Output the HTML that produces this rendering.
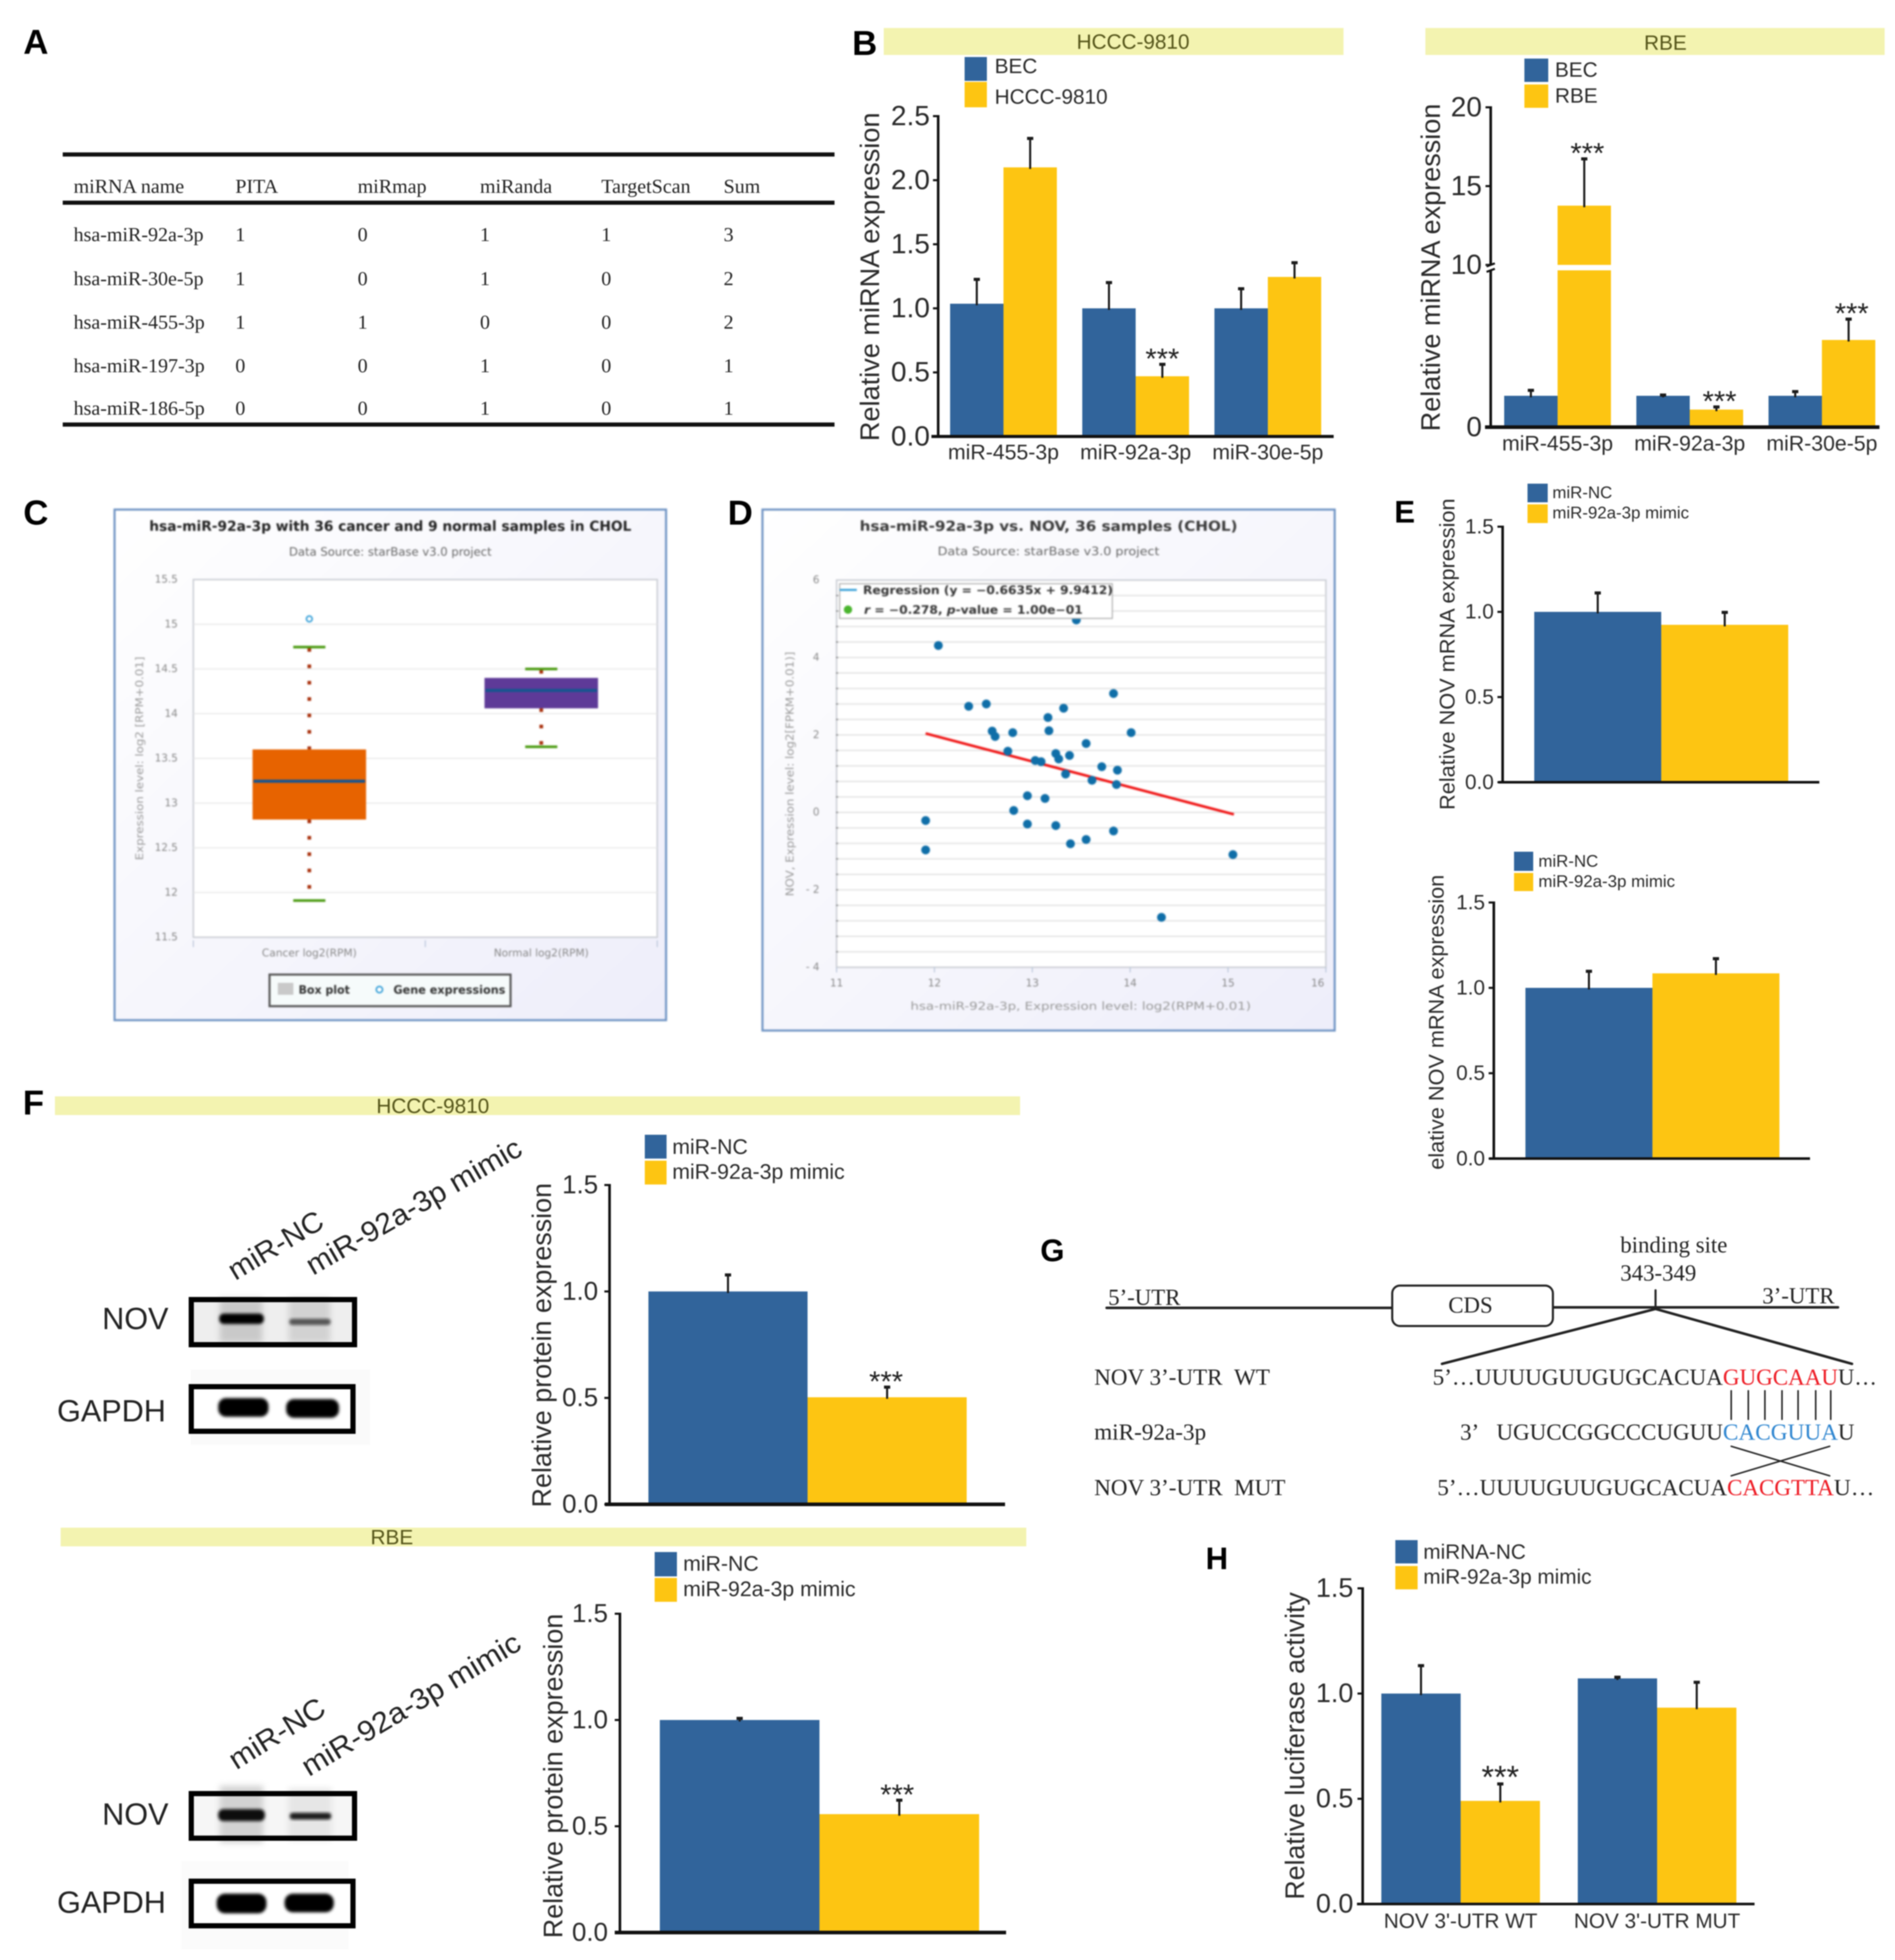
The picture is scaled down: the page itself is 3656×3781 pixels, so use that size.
<!DOCTYPE html>
<html lang="en">
<head>
<meta charset="utf-8">
<title>miR-92a-3p and NOV figure</title>
<style>
html,body{margin:0;padding:0;background:#fff;width:3656px;height:3781px;overflow:hidden}
svg{display:block;filter:blur(1px)}
text{font-family:"Liberation Sans",sans-serif;fill:#222}
.serif text,text.serif{font-family:"Liberation Serif",serif}
.dj text{font-family:"DejaVu Sans",sans-serif}
.soft{filter:blur(1.3px)}
.plabel{font-weight:700;font-size:67px;fill:#000}
.banner-text{font-size:40px;fill:#55551a}
</style>
</head>
<body>
<svg id="figure" xmlns="http://www.w3.org/2000/svg" width="3656" height="3781" viewBox="0 0 3656 3781">
<defs>
<linearGradient id="panelBg" x1="0" y1="0" x2="1" y2="1"><stop offset="0" stop-color="#ffffff"/><stop offset="1" stop-color="#eeeefa"/></linearGradient>
<filter id="b3" x="-30%" y="-30%" width="160%" height="160%"><feGaussianBlur stdDeviation="3"/></filter>
<filter id="b7" x="-30%" y="-30%" width="160%" height="160%"><feGaussianBlur stdDeviation="6"/></filter>
</defs>
<rect width="3656" height="3781" fill="#fff"/>

<!-- panel letters -->
<text class="plabel" x="45" y="104">A</text>
<text class="plabel" x="1644" y="106">B</text>
<text class="plabel" x="45" y="1012">C</text>
<text class="plabel" x="1404" y="1012">D</text>
<text class="plabel" x="2690" y="1008" style="font-size:60px">E</text>
<text class="plabel" x="44" y="2150">F</text>
<text class="plabel" x="2007" y="2433" style="font-size:60px">G</text>
<text class="plabel" x="2326" y="3027" style="font-size:60px">H</text>

<!-- Table A -->
<g class="serif" font-size="38.6">
<rect x="121" y="294" width="1489" height="8" fill="#111"/>
<rect x="121" y="387" width="1489" height="8" fill="#111"/>
<rect x="121" y="815" width="1489" height="8" fill="#111"/>
<text x="142" y="372">miRNA name</text>
<text x="454" y="372">PITA</text>
<text x="690" y="372">miRmap</text>
<text x="926" y="372">miRanda</text>
<text x="1160" y="372">TargetScan</text>
<text x="1396" y="372">Sum</text>
<text x="142" y="465">hsa-miR-92a-3p</text>
<text x="454" y="465">1</text>
<text x="690" y="465">0</text>
<text x="926" y="465">1</text>
<text x="1160" y="465">1</text>
<text x="1396" y="465">3</text>
<text x="142" y="550">hsa-miR-30e-5p</text>
<text x="454" y="550">1</text>
<text x="690" y="550">0</text>
<text x="926" y="550">1</text>
<text x="1160" y="550">0</text>
<text x="1396" y="550">2</text>
<text x="142" y="634">hsa-miR-455-3p</text>
<text x="454" y="634">1</text>
<text x="690" y="634">1</text>
<text x="926" y="634">0</text>
<text x="1160" y="634">0</text>
<text x="1396" y="634">2</text>
<text x="142" y="718">hsa-miR-197-3p</text>
<text x="454" y="718">0</text>
<text x="690" y="718">0</text>
<text x="926" y="718">1</text>
<text x="1160" y="718">0</text>
<text x="1396" y="718">1</text>
<text x="142" y="800">hsa-miR-186-5p</text>
<text x="454" y="800">0</text>
<text x="690" y="800">0</text>
<text x="926" y="800">1</text>
<text x="1160" y="800">0</text>
<text x="1396" y="800">1</text>
</g>

<!-- Cell-line banners -->
<rect x="1705" y="54" width="887" height="52" fill="#f3f3b0"/>
<text class="banner-text" x="2186" y="94" text-anchor="middle">HCCC-9810</text>
<rect x="2750" y="54" width="886" height="52" fill="#f3f3b0"/>
<text class="banner-text" x="3213" y="96" text-anchor="middle">RBE</text>
<rect x="106" y="2115" width="1862" height="36" fill="#f3f3b0"/>
<text class="banner-text" x="835" y="2147" text-anchor="middle">HCCC-9810</text>
<rect x="117" y="2947" width="1863" height="36" fill="#f3f3b0"/>
<text class="banner-text" x="756" y="2979" text-anchor="middle">RBE</text>

<!-- Bar chart mounts -->
<g id="chart-b1"></g>
<g id="chart-b2"></g>
<g id="chart-e1"></g>
<g id="chart-e2"></g>
<g id="chart-f1"></g>
<g id="chart-f2"></g>
<g id="chart-h"></g>

<!-- Panel C: box plot -->
<g class="dj soft">
<rect x="221" y="983" width="1064" height="985" fill="url(#panelBg)" stroke="#6f94c4" stroke-width="4"/>
<text x="753" y="1024" text-anchor="middle" font-size="27" font-weight="700" fill="#3a3a3a" textLength="930" lengthAdjust="spacingAndGlyphs">hsa-miR-92a-3p with 36 cancer and 9 normal samples in CHOL</text>
<text x="753" y="1072" text-anchor="middle" font-size="22" style="fill:#666" textLength="391" lengthAdjust="spacingAndGlyphs">Data Source: starBase v3.0 project</text>
<rect x="373" y="1118" width="895" height="690" fill="#fff" stroke="#cdd0d6" stroke-width="3"/>
<text transform="translate(276,1463) rotate(-90)" text-anchor="middle" font-size="20" style="fill:#999" textLength="393" lengthAdjust="spacingAndGlyphs">Expression level: log2 [RPM+0.01]</text>
<g id="box-marks"></g>
<rect x="520" y="1880" width="465" height="61" fill="#f6fbfb" stroke="#555" stroke-width="4"/>
<rect x="536" y="1896" width="30" height="23" fill="#c9c9c9"/>
<text x="576" y="1917" font-size="22" font-weight="700" style="fill:#333" textLength="99" lengthAdjust="spacingAndGlyphs">Box plot</text>
<circle cx="732" cy="1909" r="6" fill="#fff" stroke="#38a0d8" stroke-width="3"/>
<text x="759" y="1917" font-size="22" font-weight="700" style="fill:#333" textLength="216" lengthAdjust="spacingAndGlyphs">Gene expressions</text>
</g>

<!-- Panel D: scatter -->
<g class="dj soft">
<rect x="1471" y="983" width="1104" height="1005" fill="url(#panelBg)" stroke="#6f94c4" stroke-width="4"/>
<text x="2023" y="1024" text-anchor="middle" font-size="27" font-weight="700" style="fill:#3a3a3a" textLength="729" lengthAdjust="spacingAndGlyphs">hsa-miR-92a-3p vs. NOV, 36 samples (CHOL)</text>
<text x="2023" y="1071" text-anchor="middle" font-size="22" style="fill:#666" textLength="428" lengthAdjust="spacingAndGlyphs">Data Source: starBase v3.0 project</text>
<rect x="1614" y="1119" width="944" height="747" fill="#fff" stroke="#cdd0d6" stroke-width="3"/>
<text transform="translate(1531,1493) rotate(-90)" text-anchor="middle" font-size="21" style="fill:#999" textLength="472" lengthAdjust="spacingAndGlyphs">NOV, Expression level: log2[FPKM+0.01)]</text>
<text x="2085" y="1948" text-anchor="middle" font-size="21" style="fill:#999" textLength="657" lengthAdjust="spacingAndGlyphs">hsa-miR-92a-3p, Expression level: log2(RPM+0.01)</text>
<g id="scatter-marks"></g>
<rect x="1620" y="1126" width="526" height="67" fill="#fff" stroke="#aaa" stroke-width="2"/>
<line x1="1620" y1="1138" x2="1653" y2="1138" stroke="#38a0d8" stroke-width="4"/>
<text x="1665" y="1146" font-size="22" font-weight="700" style="fill:#333" textLength="482" lengthAdjust="spacingAndGlyphs">Regression (y = −0.6635x + 9.9412)</text>
<circle cx="1636" cy="1176" r="8" fill="#4ab52e"/>
<text x="1667" y="1184" font-size="22" font-weight="700" style="fill:#333" textLength="422" lengthAdjust="spacingAndGlyphs"><tspan font-style="italic">r</tspan> = −0.278, <tspan font-style="italic">p</tspan>-value = 1.00e−01</text>
</g>

<!-- Panel F blots -->
<g>
<rect x="368" y="2642" width="346" height="145" fill="#fafafa"/>
<text transform="translate(454,2471) rotate(-31)" font-size="56" textLength="204" lengthAdjust="spacingAndGlyphs">miR-NC</text>
<text transform="translate(604,2461) rotate(-30)" font-size="56" textLength="470" lengthAdjust="spacingAndGlyphs">miR-92a-3p mimic</text>
<text x="325" y="2564" text-anchor="end" font-size="59">NOV</text>
<text x="320" y="2742" text-anchor="end" font-size="59">GAPDH</text>
<rect x="369" y="2507" width="315" height="87" fill="#eeeeee"/>
<rect x="424" y="2505" width="82" height="85" fill="#c9c9c9" filter="url(#b7)"/>
<rect x="557" y="2505" width="80" height="85" fill="#d2d2d2" filter="url(#b7)"/>
<rect x="423" y="2534" width="86" height="20" rx="9" fill="#060606" filter="url(#b3)"/>
<rect x="558" y="2544" width="80" height="12" rx="6" fill="#555" filter="url(#b3)"/>
<rect x="369" y="2507" width="315" height="87" fill="none" stroke="#000" stroke-width="10"/>
<rect x="369" y="2675" width="312" height="86" fill="#fff"/>
<rect x="421" y="2697" width="97" height="36" rx="15" fill="#000" filter="url(#b3)"/>
<rect x="552" y="2699" width="102" height="36" rx="15" fill="#000" filter="url(#b3)"/>
<rect x="369" y="2675" width="312" height="86" fill="none" stroke="#000" stroke-width="10"/>
</g>
<g>
<rect x="350" y="3590" width="322" height="170" fill="#fbfbfb"/>
<text transform="translate(456,3415) rotate(-32)" font-size="56" textLength="208" lengthAdjust="spacingAndGlyphs">miR-NC</text>
<text transform="translate(596,3428) rotate(-31)" font-size="56" textLength="482" lengthAdjust="spacingAndGlyphs">miR-92a-3p mimic</text>
<text x="325" y="3520" text-anchor="end" font-size="59">NOV</text>
<text x="320" y="3690" text-anchor="end" font-size="59">GAPDH</text>
<rect x="369" y="3460" width="315" height="86" fill="#f6f6f6"/>
<rect x="424" y="3445" width="84" height="110" fill="#d2d2d2" filter="url(#b7)"/>
<rect x="556" y="3450" width="84" height="100" fill="#e6e6e6" filter="url(#b7)"/>
<rect x="421" y="3490" width="90" height="23" rx="10" fill="#0c0c0c" filter="url(#b3)"/>
<rect x="559" y="3497" width="80" height="13" rx="6" fill="#1c1c1c" filter="url(#b3)"/>
<rect x="369" y="3460" width="315" height="86" fill="none" stroke="#000" stroke-width="10"/>
<rect x="369" y="3629" width="312" height="86" fill="#fff"/>
<rect x="418" y="3653" width="96" height="38" rx="16" fill="#000" filter="url(#b3)"/>
<rect x="549" y="3653" width="95" height="36" rx="16" fill="#000" filter="url(#b3)"/>
<rect x="369" y="3629" width="312" height="86" fill="none" stroke="#000" stroke-width="10"/>
</g>

<!-- Panel G: binding-site diagram -->
<g class="serif" font-size="44" stroke-linecap="round">
<line x1="2135" y1="2523" x2="2686" y2="2523" stroke="#222" stroke-width="5"/>
<line x1="2996" y1="2522" x2="3546" y2="2522" stroke="#222" stroke-width="5"/>
<rect x="2686" y="2480" width="310" height="78" rx="15" fill="#fff" stroke="#222" stroke-width="4"/>
<text x="2837" y="2532" text-anchor="middle">CDS</text>
<text x="2138" y="2517">5’-UTR</text>
<text x="3400" y="2514">3’-UTR</text>
<text x="3126" y="2416">binding site</text>
<text x="3126" y="2470">343-349</text>
<line x1="3194" y1="2489" x2="3194" y2="2523" stroke="#222" stroke-width="4"/>
<line x1="3194" y1="2525" x2="2782" y2="2631" stroke="#222" stroke-width="5"/>
<line x1="3194" y1="2525" x2="3573" y2="2631" stroke="#222" stroke-width="5"/>
<text x="2111" y="2671" textLength="339" lengthAdjust="spacingAndGlyphs">NOV 3’-UTR&#160;&#160;WT</text>
<text x="2111" y="2777" textLength="216" lengthAdjust="spacingAndGlyphs">miR-92a-3p</text>
<text x="2111" y="2884" textLength="369" lengthAdjust="spacingAndGlyphs">NOV 3’-UTR&#160;&#160;MUT</text>
<text x="2764" y="2671" textLength="560" lengthAdjust="spacingAndGlyphs">5’…UUUUGUUGUGCACUA</text>
<text x="3324" y="2671" textLength="222" lengthAdjust="spacingAndGlyphs" style="fill:#ee1c25">GUGCAAU</text>
<text x="3546" y="2671" textLength="75" lengthAdjust="spacingAndGlyphs">U…</text>
<text x="2817" y="2777">3’</text>
<text x="2887" y="2777" textLength="437" lengthAdjust="spacingAndGlyphs">UGUCCGGCCCUGUU</text>
<text x="3324" y="2777" textLength="222" lengthAdjust="spacingAndGlyphs" style="fill:#2f86d0">CACGUUA</text>
<text x="3546" y="2777">U</text>
<text x="2773" y="2884" textLength="559" lengthAdjust="spacingAndGlyphs">5’…UUUUGUUGUGCACUA</text>
<text x="3332" y="2884" textLength="206" lengthAdjust="spacingAndGlyphs" style="fill:#ee1c25">CACGTTA</text>
<text x="3538" y="2884" textLength="78" lengthAdjust="spacingAndGlyphs">U…</text>
<g stroke="#222" stroke-width="3">
<line x1="3340" y1="2683" x2="3340" y2="2738"/>
<line x1="3373" y1="2683" x2="3373" y2="2738"/>
<line x1="3405" y1="2683" x2="3405" y2="2738"/>
<line x1="3438" y1="2683" x2="3438" y2="2738"/>
<line x1="3469" y1="2683" x2="3469" y2="2738"/>
<line x1="3503" y1="2683" x2="3503" y2="2738"/>
<line x1="3532" y1="2683" x2="3532" y2="2738"/>
<line x1="3340" y1="2790" x2="3530" y2="2847"/>
<line x1="3340" y1="2847" x2="3530" y2="2790"/>
</g>
</g>
</svg>

<script>
// ---------- Panel B, HCCC-9810 ----------
const b1Categories = ['miR-455-3p', 'miR-92a-3p', 'miR-30e-5p'];
const b1SeriesNames = ['BEC', 'HCCC-9810'];
const b1Control = [1.036, 1.0, 1.0];
const b1ControlErr = [0.194, 0.205, 0.157];
const b1Treatment = [2.10, 0.47, 1.245];
const b1TreatmentErr = [0.23, 0.097, 0.115];
const b1Stars = ['', '***', ''];
const b1Ticks = [0, 0.5, 1, 1.5, 2, 2.5];
const b1TickLabels = ['0.0', '0.5', '1.0', '1.5', '2.0', '2.5'];

// ---------- Panel B, RBE (broken axis) ----------
const b2Categories = ['miR-455-3p', 'miR-92a-3p', 'miR-30e-5p'];
const b2SeriesNames = ['BEC', 'RBE'];
const b2Control = [1.0, 1.0, 1.0];
const b2ControlErr = [0.19, 0.04, 0.15];
const b2Treatment = [13.76, 0.56, 2.78];
const b2TreatmentErr = [3.0, 0.10, 0.68];
const b2Stars = ['***', '***', '***'];
const b2Ticks = [0, 10, 15, 20];
const b2TickLabels = ['0', '10', '15', '20'];

// ---------- Panel E ----------
const e1Categories = [''];
const e1SeriesNames = ['miR-NC', 'miR-92a-3p mimic'];
const e1Control = [1.0];
const e1ControlErr = [0.114];
const e1Treatment = [0.924];
const e1TreatmentErr = [0.076];
const e1Stars = [''];
const e1Ticks = [0, 0.5, 1, 1.5];
const e1TickLabels = ['0.0', '0.5', '1.0', '1.5'];

const e2Categories = [''];
const e2SeriesNames = ['miR-NC', 'miR-92a-3p mimic'];
const e2Control = [1.0];
const e2ControlErr = [0.10];
const e2Treatment = [1.085];
const e2TreatmentErr = [0.089];
const e2Stars = [''];
const e2Ticks = [0, 0.5, 1, 1.5];
const e2TickLabels = ['0.0', '0.5', '1.0', '1.5'];

// ---------- Panel F ----------
const f1Categories = [''];
const f1SeriesNames = ['miR-NC', 'miR-92a-3p mimic'];
const f1Control = [1.0];
const f1ControlErr = [0.08];
const f1Treatment = [0.503];
const f1TreatmentErr = [0.05];
const f1Stars = ['***'];
const f1Ticks = [0, 0.5, 1, 1.5];
const f1TickLabels = ['0.0', '0.5', '1.0', '1.5'];

const f2Categories = [''];
const f2SeriesNames = ['miR-NC', 'miR-92a-3p mimic'];
const f2Control = [1.0];
const f2ControlErr = [0.01];
const f2Treatment = [0.557];
const f2TreatmentErr = [0.068];
const f2Stars = ['***'];
const f2Ticks = [0, 0.5, 1, 1.5];
const f2TickLabels = ['0.0', '0.5', '1.0', '1.5'];

// ---------- Panel H ----------
const hCategories = ["NOV 3'-UTR WT", "NOV 3'-UTR MUT"];
const hSeriesNames = ['miRNA-NC', 'miR-92a-3p mimic'];
const hControl = [1.0, 1.072];
const hControlErr = [0.135, 0.008];
const hTreatment = [0.49, 0.933];
const hTreatmentErr = [0.083, 0.123];
const hStars = ['***', ''];
const hTicks = [0, 0.5, 1, 1.5];
const hTickLabels = ['0.0', '0.5', '1.0', '1.5'];

// ---------- Panel C box plot ----------
const boxCategories = ['Cancer log2(RPM)', 'Normal log2(RPM)'];
const boxQ1 = [12.816, 14.06];
const boxMedian = [13.245, 14.26];
const boxQ3 = [13.6, 14.4];
const boxWhiskerLow = [11.91, 13.63];
const boxWhiskerHigh = [14.745, 14.5];
const boxOutliers = [15.06];
const boxTicks = [11.5, 12, 12.5, 13, 13.5, 14, 14.5, 15, 15.5];
const boxTickLabels = ['11.5', '12', '12.5', '13', '13.5', '14', '14.5', '15', '15.5'];

// ---------- Panel D scatter ----------
const scatterX = [12.04, 13.45, 12.35, 12.53, 13.83, 13.32, 13.16, 13.17, 12.59, 12.62, 12.80, 14.01, 13.55, 12.75, 13.24, 13.27, 13.38, 13.03, 13.09, 13.71, 13.87, 13.34, 13.61, 13.86, 12.95, 13.13, 12.81, 11.91, 12.95, 13.24, 13.83, 13.55, 13.39, 11.91, 15.05, 14.32];
const scatterY = [4.31, 4.97, 2.74, 2.80, 3.07, 2.69, 2.45, 2.11, 2.10, 1.96, 2.06, 2.06, 1.78, 1.58, 1.52, 1.38, 1.47, 1.34, 1.31, 1.18, 1.09, 0.99, 0.83, 0.72, 0.43, 0.36, 0.05, -0.21, -0.30, -0.34, -0.48, -0.70, -0.81, -0.97, -1.09, -2.71];
const regressionSlope = [-0.6635];
const regressionIntercept = [9.9412];
const regressionRange = [11.91, 15.06];
const scatterXTicks = [11, 12, 13, 14, 15, 16];
const scatterXTickLabels = ['11', '12', '13', '14', '15', '16'];
const scatterYTicks = [-4, -2, 0, 2, 4, 6];
const scatterYTickLabels = ['- 4', '- 2', '0', '2', '4', '6'];

// ---------- Helpers ----------
const SVGNS = 'http://www.w3.org/2000/svg';
const BLUE = '#31649b';
const YELLOW = '#fdc512';
function mk(parent, tag, attrs) {
  const el = document.createElementNS(SVGNS, tag);
  for (const k in attrs) el.setAttribute(k, attrs[k]);
  parent.appendChild(el);
  return el;
}
function addText(parent, str, attrs, name) {
  const el = mk(parent, 'text', attrs);
  el.textContent = str;
  
  
  return el;
}
function addShape(parent, tag, attrs, name) {
  const el = mk(parent, tag, attrs);
  
  
  return el;
}
function linearScale(d0, d1, r0, r1) {
  return function (v) { return r0 + (v - d0) * (r1 - r0) / (d1 - d0); };
}

function drawBars(g, L, y, series, values, errs, offset, color) {
  values.forEach(function (v, i) {
    const x = L.barX0 + i * L.groupStep + offset * L.barW;
    const zero = y(0);
    if (L.breakLow !== undefined && v > L.breakHigh) {
      addShape(g, 'rect', { x: x, y: y(L.breakLow), width: L.barW, height: zero - y(L.breakLow), fill: color }, series + '-bar-lower');
      addShape(g, 'rect', { x: x, y: y(v), width: L.barW, height: y(L.breakHigh) - y(v), fill: color }, series + '-bar-upper');
    } else {
      addShape(g, 'rect', { x: x, y: y(v), width: L.barW, height: zero - y(v), fill: color }, series + '-bar');
    }
    const cx = x + L.barW / 2;
    const errTop = y(v + errs[i]);
    addShape(g, 'line', { x1: cx, x2: cx, y1: y(v) + 3, y2: errTop, stroke: '#1c1c1c', 'stroke-width': 4 }, series + '-error-bar');
    addShape(g, 'line', { x1: cx - 6, x2: cx + 6, y1: errTop + 1, y2: errTop + 1, stroke: '#1c1c1c', 'stroke-width': 6 }, series + '-error-cap');
  });
}

function drawBarChart(id, L, y, categories, seriesNames, control, controlErr, treatment, treatmentErr, stars, ticks, tickLabels, yTitle) {
  const g = document.getElementById(id);
  drawBars(g, L, y, 'control', control, controlErr, 0, BLUE);
  drawBars(g, L, y, 'treatment', treatment, treatmentErr, 1, YELLOW);
  // significance marks
  treatment.forEach(function (v, i) {
    if (!stars[i]) return;
    const cx = L.barX0 + i * L.groupStep + 1.5 * L.barW + (L.starDx || 0);
    const errTop = y(v + treatmentErr[i]);
    addText(g, stars[i], { x: cx, y: errTop + 9, 'text-anchor': 'middle', 'font-size': L.starSize || 56 }, 'significance-stars');
  });
  // axes
  addShape(g, 'line', { x1: L.axisX, x2: L.axisX, y1: y(ticks[ticks.length - 1]) - 2, y2: y(0), stroke: '#111', 'stroke-width': L.yW }, 'y-axis-line');
  addShape(g, 'line', { x1: L.xFrom, x2: L.xTo, y1: y(0), y2: y(0), stroke: '#111', 'stroke-width': L.xW }, 'x-axis-line');
  ticks.forEach(function (t, i) {
    addShape(g, 'line', { x1: L.axisX - L.tickLen, x2: L.axisX, y1: y(t), y2: y(t), stroke: '#111', 'stroke-width': 4 }, 'y-axis-tick');
    addText(g, tickLabels[i], { x: L.tickRight, y: y(t) + L.tickSize * 0.32, 'text-anchor': 'end', 'font-size': L.tickSize, style: 'fill:#2a2a2a' }, 'y-tick-label');
  });
  if (L.breakLow !== undefined) {
    const a = y(L.breakHigh), b = y(L.breakLow);
    addShape(g, 'rect', { x: L.axisX - 8, y: a, width: 16, height: b - a, fill: '#fff' }, 'axis-break-gap');
    addShape(g, 'line', { x1: L.axisX - 8, x2: L.axisX + 8, y1: a + 3, y2: a - 3, stroke: '#111', 'stroke-width': 4 }, 'axis-break-mark');
    addShape(g, 'line', { x1: L.axisX - 8, x2: L.axisX + 8, y1: b + 3, y2: b - 3, stroke: '#111', 'stroke-width': 4 }, 'axis-break-mark');
  }
  // category labels
  categories.forEach(function (c, i) {
    if (!c) return;
    addText(g, c, { x: L.barX0 + i * L.groupStep + L.barW, y: L.catY, 'text-anchor': 'middle', 'font-size': L.catSize, style: 'fill:#2a2a2a' }, 'x-category-label');
  });
  // y title
  addText(g, yTitle, { transform: 'translate(' + L.titleX + ',' + L.titleY + ') rotate(-90)', 'text-anchor': 'middle', 'font-size': L.titleSize, textLength: L.titleLen, lengthAdjust: 'spacingAndGlyphs', style: 'fill:#2a2a2a' }, 'y-axis-title');
  // legend
  [BLUE, YELLOW].forEach(function (color, i) {
    const sw = L.legendSw[i];
    addShape(g, 'rect', { x: L.legendX, y: sw[0], width: L.legendW, height: sw[1] - sw[0], fill: color }, 'legend-swatch');
    addText(g, seriesNames[i], { x: L.legendTextX, y: L.legendBase[i], 'font-size': L.legendSize, style: 'fill:#2a2a2a' }, 'legend-label');
  });
}

// ---------- Bar charts ----------
drawBarChart('chart-b1',
  { axisX: 1810, xFrom: 1797, xTo: 2573, xW: 6, yW: 5, tickLen: 10, tickRight: 1794, tickSize: 54, barX0: 1833, groupStep: 255, barW: 103, catY: 886, catSize: 41, titleX: 1696, titleY: 534, titleLen: 634, titleSize: 52, legendX: 1861, legendW: 43, legendSw: [[110, 156], [158, 207]], legendTextX: 1919, legendBase: [141, 200], legendSize: 40 },
  linearScale(0, 2.5, 842, 224),
  b1Categories, b1SeriesNames, b1Control, b1ControlErr, b1Treatment, b1TreatmentErr, b1Stars, b1Ticks, b1TickLabels, 'Relative miRNA expression');

function b2Scale(v) {
  if (v <= 5) return 824 - v * 60.5;
  return 511 - (v - 10) * 30.4;
}
drawBarChart('chart-b2',
  { axisX: 2876, xFrom: 2865, xTo: 3626, xW: 7, yW: 5, tickLen: 10, tickRight: 2859, tickSize: 54, barX0: 2902, groupStep: 255, barW: 103, catY: 869, catSize: 41, titleX: 2778, titleY: 516, titleLen: 632, titleSize: 52, legendX: 2941, legendW: 46, legendSw: [[113, 158], [163, 208]], legendTextX: 3000, legendBase: [148, 198], legendSize: 40, breakLow: 5, breakHigh: 10, starDx: 6 },
  b2Scale,
  b2Categories, b2SeriesNames, b2Control, b2ControlErr, b2Treatment, b2TreatmentErr, b2Stars, b2Ticks, b2TickLabels, 'Relative miRNA expression');

drawBarChart('chart-e1',
  { axisX: 2899, xFrom: 2891, xTo: 3510, xW: 5, yW: 5, tickLen: 10, tickRight: 2882, tickSize: 40, barX0: 2960, groupStep: 0, barW: 245, catY: 0, catSize: 40, titleX: 2806, titleY: 1262, titleLen: 601, titleSize: 41, legendX: 2947, legendW: 39, legendSw: [[933, 969], [973, 1009]], legendTextX: 2995, legendBase: [961, 1000], legendSize: 32.5 },
  linearScale(0, 1.5, 1509, 1016),
  e1Categories, e1SeriesNames, e1Control, e1ControlErr, e1Treatment, e1TreatmentErr, e1Stars, e1Ticks, e1TickLabels, 'Relative NOV mRNA expression');

drawBarChart('chart-e2',
  { axisX: 2882, xFrom: 2873, xTo: 3492, xW: 5, yW: 5, tickLen: 10, tickRight: 2865, tickSize: 40, barX0: 2943, groupStep: 0, barW: 245, catY: 0, catSize: 40, titleX: 2785, titleY: 1972, titleLen: 569, titleSize: 41, legendX: 2921, legendW: 37, legendSw: [[1643, 1680], [1684, 1719]], legendTextX: 2968, legendBase: [1672, 1711], legendSize: 32.5 },
  linearScale(0, 1.5, 2235, 1741),
  e2Categories, e2SeriesNames, e2Control, e2ControlErr, e2Treatment, e2TreatmentErr, e2Stars, e2Ticks, e2TickLabels, 'elative NOV mRNA expression');

drawBarChart('chart-f1',
  { axisX: 1176, xFrom: 1167, xTo: 1939, xW: 7, yW: 5, tickLen: 10, tickRight: 1154, tickSize: 50, barX0: 1251, groupStep: 0, barW: 307, catY: 0, catSize: 40, titleX: 1063, titleY: 2595, titleLen: 626, titleSize: 52, legendX: 1244, legendW: 42, legendSw: [[2189, 2235], [2239, 2285]], legendTextX: 1297, legendBase: [2226, 2274], legendSize: 41, starDx: -2 },
  linearScale(0, 1.5, 2902, 2286),
  f1Categories, f1SeriesNames, f1Control, f1ControlErr, f1Treatment, f1TreatmentErr, f1Stars, f1Ticks, f1TickLabels, 'Relative protein expression');

drawBarChart('chart-f2',
  { axisX: 1196, xFrom: 1186, xTo: 1941, xW: 7, yW: 5, tickLen: 10, tickRight: 1173, tickSize: 50, barX0: 1273, groupStep: 0, barW: 308, catY: 0, catSize: 40, titleX: 1085, titleY: 3426, titleLen: 626, titleSize: 52, legendX: 1263, legendW: 43, legendSw: [[2994, 3041], [3044, 3090]], legendTextX: 1318, legendBase: [3030, 3079], legendSize: 41, starDx: -4 },
  linearScale(0, 1.5, 3728, 3113),
  f2Categories, f2SeriesNames, f2Control, f2ControlErr, f2Treatment, f2TreatmentErr, f2Stars, f2Ticks, f2TickLabels, 'Relative protein expression');

drawBarChart('chart-h',
  { axisX: 2629, xFrom: 2618, xTo: 3385, xW: 5, yW: 5, tickLen: 10, tickRight: 2611, tickSize: 52, barX0: 2665, groupStep: 379, barW: 153, catY: 3719, catSize: 40, titleX: 2516, titleY: 3368, titleLen: 593, titleSize: 51.5, legendX: 2692, legendW: 43, legendSw: [[2971, 3016], [3021, 3066]], legendTextX: 2746, legendBase: [3007, 3055], legendSize: 40, starSize: 62 },
  linearScale(0, 1.5, 3673, 3064),
  hCategories, hSeriesNames, hControl, hControlErr, hTreatment, hTreatmentErr, hStars, hTicks, hTickLabels, 'Relative luciferase activity');

// ---------- Box plot ----------
(function () {
  const g = document.getElementById('box-marks');
  const y = linearScale(11.5, 15.5, 1808, 1118);
  const xLeft = 373, xRight = 1268, bandW = (xRight - xLeft) / boxCategories.length;
  const boxW = 219, capW = 62;
  boxTicks.forEach(function (t, i) {
    if (i > 0 && i < boxTicks.length - 1) {
      addShape(g, 'line', { x1: xLeft, x2: xRight, y1: y(t), y2: y(t), stroke: '#e6e6e6', 'stroke-width': 2 }, 'box-grid-line');
    }
    addText(g, boxTickLabels[i], { x: 343, y: y(t) + 6, 'text-anchor': 'end', 'font-size': 20, style: 'fill:#888' }, 'box-y-tick-label');
  });
  for (let i = 0; i <= boxCategories.length; i++) {
    addShape(g, 'line', { x1: xLeft + i * bandW, x2: xLeft + i * bandW, y1: 1814, y2: 1827, stroke: '#b8c4d8', 'stroke-width': 2 }, 'box-x-tick');
  }
  boxCategories.forEach(function (c, i) {
    const cx = xLeft + (i + 0.5) * bandW;
    const fill = i === 0 ? '#e76300' : '#5e3a98';
    addShape(g, 'line', { x1: cx, x2: cx, y1: y(boxWhiskerHigh[i]) + 2, y2: y(boxQ3[i]), stroke: '#a8300c', 'stroke-width': 7, 'stroke-dasharray': '7 24.6' }, 'box-upper-whisker');
    addShape(g, 'line', { x1: cx, x2: cx, y1: y(boxQ1[i]), y2: y(boxWhiskerLow[i]), stroke: '#a8300c', 'stroke-width': 7, 'stroke-dasharray': '7 24.6' }, 'box-lower-whisker');
    addShape(g, 'rect', { x: cx - boxW / 2, y: y(boxQ3[i]), width: boxW, height: y(boxQ1[i]) - y(boxQ3[i]), fill: fill }, 'box-iqr');
    addShape(g, 'line', { x1: cx - boxW / 2 + 2, x2: cx + boxW / 2 - 2, y1: y(boxMedian[i]), y2: y(boxMedian[i]), stroke: '#17558f', 'stroke-width': 6 }, 'box-median');
    addShape(g, 'line', { x1: cx - capW / 2, x2: cx + capW / 2, y1: y(boxWhiskerHigh[i]), y2: y(boxWhiskerHigh[i]), stroke: '#4a9a10', 'stroke-width': 5 }, 'box-whisker-cap');
    addShape(g, 'line', { x1: cx - capW / 2, x2: cx + capW / 2, y1: y(boxWhiskerLow[i]), y2: y(boxWhiskerLow[i]), stroke: '#4a9a10', 'stroke-width': 5 }, 'box-whisker-cap');
    addText(g, c, { x: cx, y: 1845, 'text-anchor': 'middle', 'font-size': 20, textLength: 183, lengthAdjust: 'spacingAndGlyphs', style: 'fill:#888' }, 'box-category-label');
    if (i === 0) {
      boxOutliers.forEach(function (o) {
        addShape(g, 'circle', { cx: cx, cy: y(o), r: 5.5, fill: '#fff', stroke: '#38a0d8', 'stroke-width': 3 }, 'box-outlier');
      });
    }
  });
})();

// ---------- Scatter ----------
(function () {
  const g = document.getElementById('scatter-marks');
  const x = linearScale(11, 16, 1614, 2558);
  const y = linearScale(-4, 6, 1866, 1119);
  const minorStep = 0.4, minorCount = 25;
  for (let i = 1; i < minorCount; i++) {
    const v = -4 + i * minorStep;
    addShape(g, 'line', { x1: x(11), x2: x(16), y1: y(v), y2: y(v), stroke: '#dcdcdc', 'stroke-width': 2 }, 'scatter-grid-line');
    addShape(g, 'line', { x1: x(11) - 1, x2: x(11) + 3, y1: y(v), y2: y(v), stroke: '#777', 'stroke-width': 2 }, 'scatter-minor-tick');
  }
  scatterYTicks.forEach(function (t, i) {
    addText(g, scatterYTickLabels[i], { x: 1581, y: y(t) + 6, 'text-anchor': 'end', 'font-size': 20, style: 'fill:#888' }, 'scatter-y-tick-label');
  });
  scatterXTicks.forEach(function (t, i) {
    const isLast = i === scatterXTicks.length - 1;
    addShape(g, 'line', { x1: x(t), x2: x(t), y1: 1866, y2: 1876, stroke: '#b8c4d8', 'stroke-width': 2 }, 'scatter-x-tick');
    addText(g, scatterXTickLabels[i], { x: isLast ? x(t) - 3 : x(t), y: 1903, 'text-anchor': isLast ? 'end' : 'middle', 'font-size': 20, style: 'fill:#888' }, 'scatter-x-tick-label');
  });
  const x0 = regressionRange[0], x1 = regressionRange[1];
  addShape(g, 'line', { x1: x(x0), y1: y(regressionSlope[0] * x0 + regressionIntercept[0]), x2: x(x1), y2: y(regressionSlope[0] * x1 + regressionIntercept[0]), stroke: '#f01414', 'stroke-width': 5 }, 'regression-line');
  scatterX.forEach(function (v, i) {
    addShape(g, 'circle', { cx: x(v), cy: y(scatterY[i]), r: 8.5, fill: '#0f6ea8' }, 'scatter-point');
  });
})();
</script>
</body>
</html>
